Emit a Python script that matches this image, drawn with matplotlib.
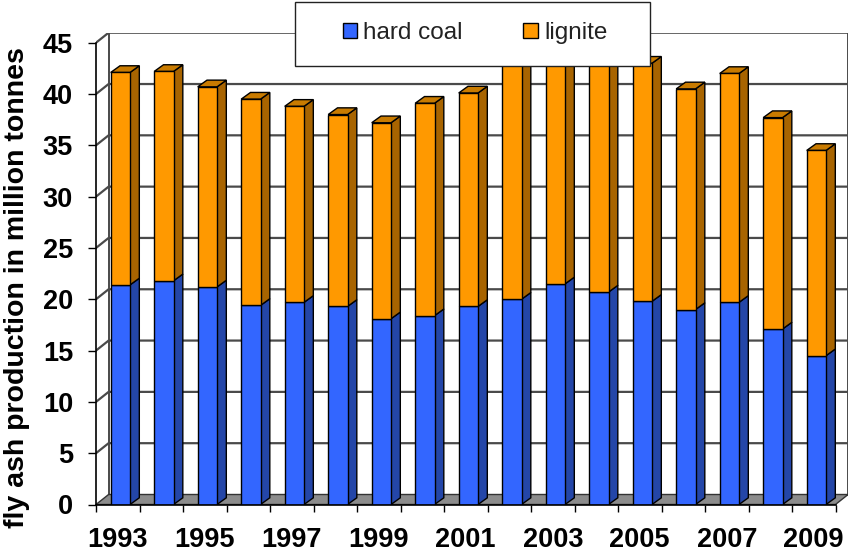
import matplotlib.pyplot as plt
from matplotlib.patches import Polygon, Rectangle, Patch

years = list(range(1993, 2010))
hard_coal = [21.4, 21.8, 21.2, 19.4, 19.7, 19.3, 18.1, 18.4, 19.3, 20.0,
             21.5, 20.7, 19.8, 19.0, 19.7, 17.1, 14.5]
lignite = [20.7, 20.4, 19.5, 20.1, 19.1, 18.7, 19.1, 20.7, 20.8, 23.6,
           22.9, 23.3, 23.2, 21.5, 22.3, 20.6, 20.0]
y_ticks = [0, 5, 10, 15, 20, 25, 30, 35, 40, 45]
x_labels = [str(y) if y % 2 == 1 else "" for y in years]
series_names = ["hard coal", "lignite"]

plt.rcParams['font.family'] = ['Liberation Sans', 'DejaVu Sans']

# colours: front / side / top
blue = ('#3366ff', '#2446a8')
orange = ('#ff9900', '#a86400', '#c97b00')
grid_c = '#4a4a4a'

W, H = 852, 552
fig = plt.figure(figsize=(W / 100, H / 100), dpi=100)

# pixel sizes of one category slot and one tonne on the front plane
slot_px, unit_px = 43.5, 10.262
x0_px, y0_px = 96, 504.5
wall_dx, wall_dy = 12.6 / slot_px, 10 / unit_px
bar_w, bar_off = 0.444, 0.06
bar_dx, bar_dy = 9.3 / slot_px, 6.7 / unit_px
n = len(years)
ymax = y_ticks[-1]

xl = (-0.5, n - 0.5 + wall_dx)
yl = (0, ymax + wall_dy)
ax = fig.add_axes([x0_px / W, (H - y0_px) / H,
                   (xl[1] - xl[0]) * slot_px / W, (yl[1] - yl[0]) * unit_px / H])
ax.set_xlim(xl)
ax.set_ylim(yl)

# floor and walls
floor = Polygon([(-0.5, 0), (n - 0.5, 0), (n - 0.5 + wall_dx, wall_dy), (-0.5 + wall_dx, wall_dy)],
                closed=True, fc='#8c8c8c', ec='#333333', lw=1, zorder=1)
ax.add_patch(floor)
for v in y_ticks[1:]:
    ax.plot([-0.5, -0.5 + wall_dx, n - 0.5 + wall_dx], [v, v + wall_dy, v + wall_dy],
            color=grid_c, lw=1.6, zorder=0.5, solid_capstyle='butt')
ax.plot([-0.5 + wall_dx] * 2, [wall_dy, ymax + wall_dy], color=grid_c, lw=1.4, zorder=0.5)
ax.plot([n - 0.5 + wall_dx] * 2, [wall_dy, ymax + wall_dy], color=grid_c, lw=1.4, zorder=0.5)

# 3d looking stacked columns
for i in range(n):
    xa = i + bar_off - bar_w / 2
    xb = xa + bar_w
    hc = hard_coal[i]
    tot = hc + lignite[i]
    ax.bar(i + bar_off, hc, width=bar_w, color=blue[0], edgecolor='black', lw=1, zorder=3)
    ax.bar(i + bar_off, lignite[i], bottom=hc, width=bar_w, color=orange[0],
           edgecolor='black', lw=1, zorder=3)
    side_hc = [(xb, 0), (xb + bar_dx, bar_dy), (xb + bar_dx, hc + bar_dy), (xb, hc)]
    side_lg = [(xb, hc), (xb + bar_dx, hc + bar_dy), (xb + bar_dx, tot + bar_dy), (xb, tot)]
    top = [(xa, tot), (xb, tot), (xb + bar_dx, tot + bar_dy), (xa + bar_dx, tot + bar_dy)]
    ax.add_patch(Polygon(side_hc, closed=True, fc=blue[1], ec='black', lw=1, zorder=2))
    ax.add_patch(Polygon(side_lg, closed=True, fc=orange[1], ec='black', lw=1, zorder=2))
    ax.add_patch(Polygon(top, closed=True, fc=orange[2], ec='black', lw=1, zorder=2))

for s in ['top', 'right']:
    ax.spines[s].set_visible(False)
ax.spines['left'].set_bounds(0, ymax)
ax.spines['bottom'].set_bounds(-0.5, n - 0.5)
for s in ['left', 'bottom']:
    ax.spines[s].set_linewidth(1.2)
    ax.spines[s].set_zorder(4)

ax.set_yticks(y_ticks)
ax.set_yticklabels([str(v) for v in y_ticks], fontsize=19.5, fontweight='bold')
ax.tick_params(axis='y', length=6, width=1, pad=10.5)
ax.set_xticks(range(n))
ax.set_xticklabels(x_labels, fontsize=19.5, fontweight='bold')
ax.set_xticks([i - 0.5 for i in range(n + 1)], minor=True)
ax.tick_params(axis='x', which='major', length=0, pad=16)
ax.tick_params(axis='x', which='minor', length=5, width=1)

fig.text(17.5 / W, 1 - 288 / H, "fly ash production in million tonnes", rotation=90,
         ha='center', va='center', fontsize=20.5, fontweight='bold')

# legend box on top of the plot
box = Rectangle((295 / W, 1 - 66 / H), 355 / W, 64 / H, transform=fig.transFigure,
                fc='white', ec='#222222', lw=1, zorder=10, clip_on=False)
ax.add_patch(box)
handles = [Patch(fc=blue[0], ec='black', lw=1), Patch(fc=orange[0], ec='black', lw=1)]
leg = ax.legend(handles, series_names, loc='center', bbox_to_anchor=(475 / W, 1 - 33 / H),
                bbox_transform=fig.transFigure, ncol=2, frameon=False, fontsize=17.5,
                handlelength=0.6, handleheight=0.6, handletextpad=0.25, columnspacing=2.5)
for t in leg.get_texts():
    t.set_color('#222222')
leg.set_zorder(11)

fig.savefig('out.png', dpi=100)
